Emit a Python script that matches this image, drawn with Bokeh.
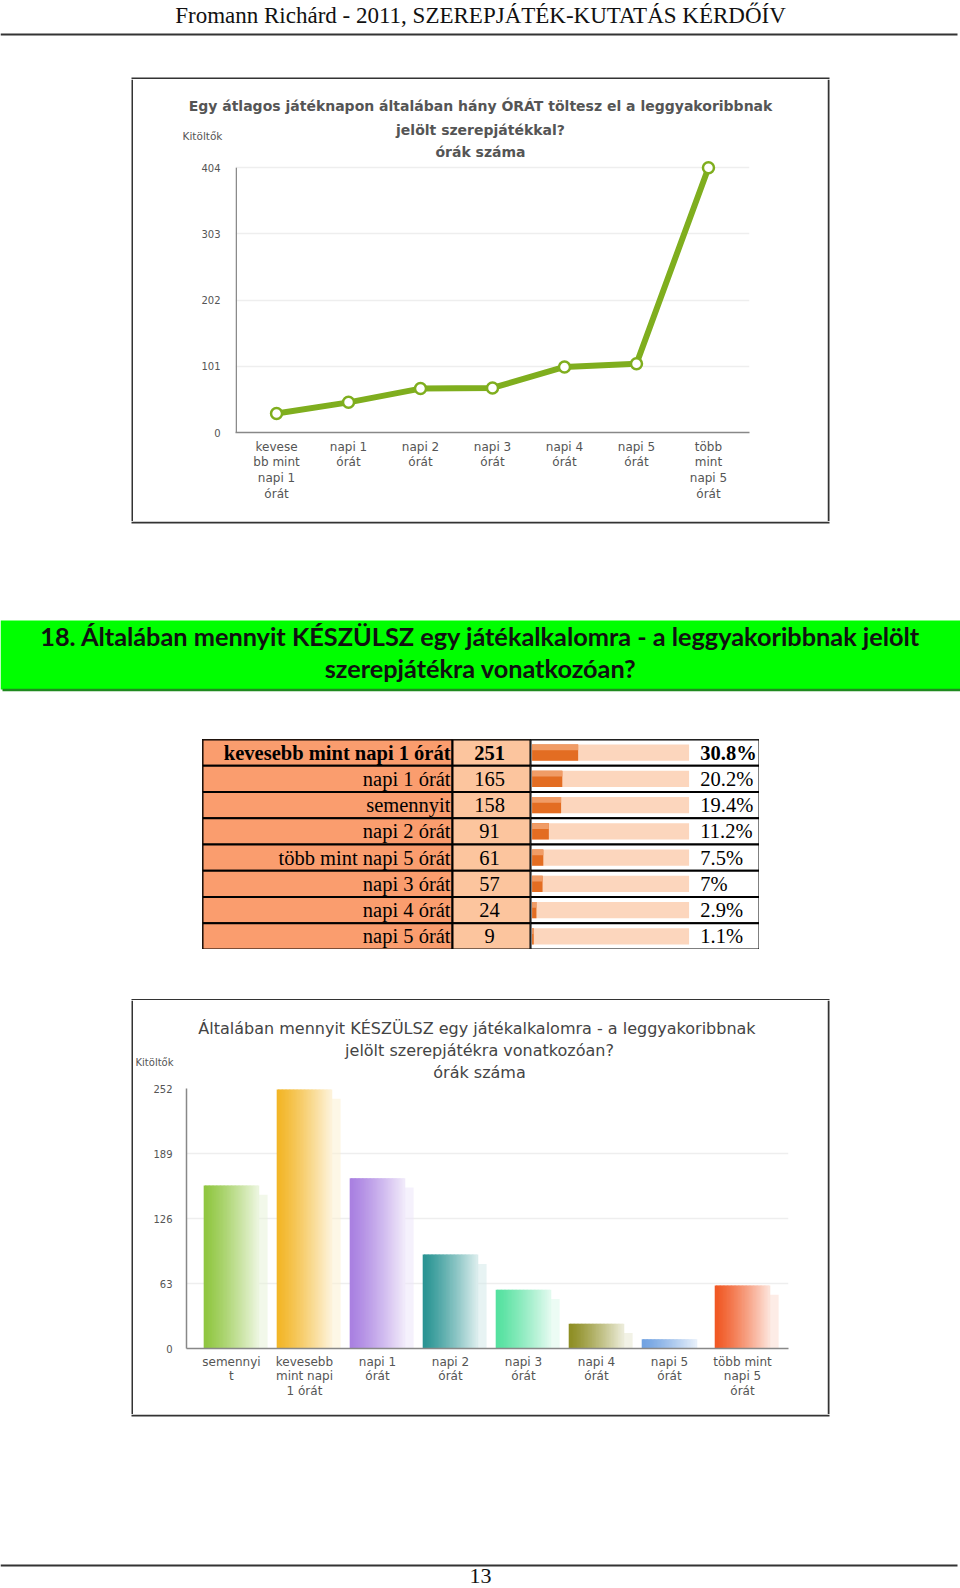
from bokeh.plotting import figure
from bokeh.models import Range1d, FixedTicker, ColumnDataSource, Spacer, FactorRange
from bokeh.layouts import column, row
from bokeh.transform import dodge
from bokeh.core.properties import value
from bokeh.embed import file_html
from bokeh.resources import INLINE

# ---------------- data ----------------
header_text = "Fromann Richárd - 2011, SZEREPJÁTÉK-KUTATÁS KÉRDŐÍV"
page_number = "13"

line_title = ["Egy átlagos játéknapon általában hány ÓRÁT töltesz el a leggyakoribbnak",
              "jelölt szerepjátékkal?", "órák száma"]
y_title = "Kitöltők"
line_categories = ["kevesebb mint napi 1 órát", "napi 1 órát", "napi 2 órát", "napi 3 órát",
                   "napi 4 órát", "napi 5 órát", "több mint napi 5 órát"]
line_tick_labels = ["kevese\nbb mint\nnapi 1\nórát", "napi 1\nórát", "napi 2\nórát",
                    "napi 3\nórát", "napi 4\nórát", "napi 5\nórát", "több\nmint\nnapi 5\nórát"]
line_values = [29, 46, 67, 68, 100, 105, 404]
line_y_ticks = [0, 101, 202, 303, 404]

section_title = ["18. Általában mennyit KÉSZÜLSZ egy játékalkalomra - a leggyakoribbnak jelölt",
                 "szerepjátékra vonatkozóan?"]

table_labels = ["kevesebb mint napi 1 órát", "napi 1 órát", "semennyit", "napi 2 órát",
                "több mint napi 5 órát", "napi 3 órát", "napi 4 órát", "napi 5 órát"]
table_counts = [251, 165, 158, 91, 61, 57, 24, 9]
table_percents = [30.8, 20.2, 19.4, 11.2, 7.5, 7, 2.9, 1.1]

bar_title = ["Általában mennyit KÉSZÜLSZ egy játékalkalomra -  a leggyakoribbnak",
             "jelölt szerepjátékra vonatkozóan?", "órák száma"]
bar_categories = ["semennyit", "kevesebb mint napi 1 órát", "napi 1 órát", "napi 2 órát",
                  "napi 3 órát", "napi 4 órát", "napi 5 órát", "több mint napi 5 órát"]
bar_tick_labels = ["semennyi\nt", "kevesebb\nmint napi\n1 órát", "napi 1\nórát", "napi 2\nórát",
                   "napi 3\nórát", "napi 4\nórát", "napi 5\nórát", "több mint\nnapi 5\nórát"]
bar_values = [158, 251, 165, 91, 57, 24, 9, 61]
bar_y_ticks = [0, 63, 126, 189, 252]
bar_colors = ["#8cc43a", "#f2b31f", "#a67ce0", "#22908f", "#4fe09c", "#8a8a1c", "#6c9fe0", "#f0521c"]

SANS = "DejaVu Sans"
SERIF = "Liberation Serif"
BOX = "#333333"


def mix(hexc, t):
    r, g, b = int(hexc[1:3], 16), int(hexc[3:5], 16), int(hexc[5:7], 16)
    return "#%02x%02x%02x" % tuple(int(round(c + (255 - c) * t)) for c in (r, g, b))


def bare(w, h):
    p = figure(width=w, height=h, x_range=Range1d(0, w), y_range=Range1d(h, 0),
               output_backend="svg", toolbar_location=None, min_border=0,
               x_axis_location=None, y_axis_location=None, title=None)
    p.frame_align = False
    p.grid.visible = False
    p.outline_line_color = None
    p.background_fill_color = "white"
    p.border_fill_color = "white"
    return p


def hline(p, x0, x1, y, color=BOX, width=2):
    p.segment(x0=[x0], y0=[y], x1=[x1], y1=[y], line_color=color, line_width=width)


def vline(p, x, y0, y1, color=BOX, width=2):
    p.segment(x0=[x], y0=[y0], x1=[x], y1=[y1], line_color=color, line_width=width)


def style_axes(p, standoff_x, standoff_y, lh):
    p.frame_align = False
    p.outline_line_color = None
    p.xgrid.visible = False
    p.ygrid.grid_line_color = "#eeeeee"
    p.ygrid.grid_line_width = 1.5
    p.yaxis.major_tick_line_color = None
    p.yaxis.minor_tick_line_color = None
    p.yaxis.major_label_standoff = standoff_y
    p.yaxis.major_label_text_font = SANS
    p.yaxis.major_label_text_font_size = "10px"
    p.yaxis.major_label_text_color = "#555"
    p.xaxis.axis_line_color = "#888"
    p.xaxis.axis_line_width = 1.5
    p.xaxis.major_tick_line_color = None
    p.xaxis.minor_tick_line_color = None
    p.xaxis.major_label_standoff = standoff_x
    p.xaxis.major_label_text_font = SANS
    p.xaxis.major_label_text_font_size = "12px"
    p.xaxis.major_label_text_color = "#555"
    p.xaxis.major_label_text_line_height = lh


# ---------------- header (also top edge of first chart box) ----------------
header = bare(960, 79)
header.text(x=[480], y=[15], text=[header_text], text_align="center", text_baseline="middle",
            text_font=value(SERIF), text_font_size="23px", text_color="#111")
hline(header, 0, 957, 34, "#333", 2)
hline(header, 131, 829, 78)

# ---------------- line chart box ----------------
line_head = bare(694, 81)
line_head.text(x=[347] * 3, y=[26, 50, 72], text=line_title, text_align="center",
               text_baseline="middle", text_font=value(SANS), text_font_size="14px",
               text_font_style="bold", text_color="#555555")
line_head.text(x=[69], y=[56], text=[y_title], text_align="center", text_baseline="middle",
               text_font=value(SANS), text_font_size="10.5px", text_color="#555")

lx = list(range(len(line_categories)))
pl = figure(width=694, height=361, x_range=Range1d(-0.57, 6.57), y_range=Range1d(0, 415),
            output_backend="svg", toolbar_location=None, title=None,
            min_border_left=102, min_border_right=78, min_border_top=0, min_border_bottom=89)
style_axes(pl, 1, 9, 1.12)
pl.yaxis.ticker = FixedTicker(ticks=line_y_ticks)
pl.yaxis.axis_line_color = None
pl.xaxis.ticker = FixedTicker(ticks=lx)
pl.xaxis.major_label_overrides = {i: t for i, t in zip(lx, line_tick_labels)}
pl.segment(x0=[pl.x_range.start + 0.01], y0=[0], x1=[pl.x_range.start + 0.01],
           y1=[max(line_y_ticks)], line_color="#888", line_width=1.5)
lsrc = ColumnDataSource(dict(x=lx, v=line_values))
pl.line(x="x", y="v", source=lsrc, line_color="#7fae1e", line_width=6)
pl.scatter(x="x", y="v", source=lsrc, size=11, fill_color="white", line_color="#7fae1e",
           line_width=2.5)

left1 = bare(133, 442)
vline(left1, 132, 0, 442)
right1 = bare(133, 442)
vline(right1, 1, 0, 442)

# ---------------- section title band (also bottom edge of first box) ----------------
mid = bare(960, 218)
hline(mid, 131, 829, 1)
mid.quad(left=[0], right=[960], top=[99], bottom=[168], fill_color="#00ff00", line_color=None)
hline(mid, 2, 960, 168.5, "#1f8a1f", 2.5)
mid.text(x=[480, 480], y=[114, 146], text=section_title, text_align="center",
         text_baseline="middle", text_font=value("Lato"), text_font_size="25.3px",
         text_font_style="bold", text_color="#111")

# ---------------- table ----------------
row_h = 210
styles = ["bold" if c == max(table_counts) else "normal" for c in table_counts]
tsrc = ColumnDataSource(dict(
    label=table_labels, count=[str(c) for c in table_counts], pct=table_percents,
    pct_text=["%g%%" % v for v in table_percents], style=styles))

tleft = figure(width=328, height=row_h, x_range=Range1d(0, 328),
               y_range=FactorRange(factors=table_labels[::-1]), output_backend="svg",
               toolbar_location=None, min_border=0, x_axis_location=None,
               y_axis_location=None, title=None)
tleft.frame_align = False
tleft.grid.visible = False
tleft.hbar(y="label", left=0, right=250, height=1, source=tsrc, fill_color="#fa9d6e",
           line_color="black", line_width=2)
tleft.hbar(y="label", left=250, right=328, height=1, source=tsrc, fill_color="#fcc59e",
           line_color="black", line_width=2)
tleft.text(x=248, y="label", text="label", source=tsrc, text_align="right",
           text_baseline="middle", text_font=value(SERIF), text_font_size="20.5px",
           text_font_style="style", text_color="black")
tleft.text(x=287, y="label", text="count", source=tsrc, text_align="center",
           text_baseline="middle", text_font=value(SERIF), text_font_size="20.5px",
           text_font_style="style", text_color="black")
tleft.outline_line_color = "black"
tleft.outline_line_width = 2

tbar = figure(width=229, height=row_h, x_range=Range1d(-1.07, 152.1),
              y_range=FactorRange(factors=table_labels[::-1]), output_backend="svg",
              toolbar_location=None, min_border=0, x_axis_location=None,
              y_axis_location=None, title=None)
tbar.frame_align = False
tbar.grid.visible = False
tbar.hbar(y="label", left=-1.07, right=152.1, height=1, source=tsrc, fill_color="white",
          line_color="black", line_width=2)
tbar.hbar(y="label", left=0, right=105, height=0.62, source=tsrc, fill_color="#fcd6bd",
          line_color=None)
tbar.hbar(y="label", left=0, right="pct", height=0.62, source=tsrc, fill_color="#e36d22",
          line_color=None)
tbar.hbar(y=dodge("label", 0.2, range=tbar.y_range), left=0, right="pct", height=0.22,
          source=tsrc, fill_color="#f09c66", line_color=None)
tbar.text(x=112.5, y="label", text="pct_text", source=tsrc, text_align="left",
          text_baseline="middle", text_font=value(SERIF), text_font_size="20.5px",
          text_font_style="style", text_color="black")
tbar.outline_line_color = "black"
tbar.outline_line_width = 2

# ---------------- gap (also top edge of second box) ----------------
gap = bare(960, 51)
hline(gap, 131, 829, 50.5)

# ---------------- bar chart box ----------------
bar_head = bare(694, 81)
bar_head.text(x=[346] * 3, y=[28, 50, 72], text=bar_title, text_align="center",
              text_baseline="middle", text_font=value(SANS), text_font_size="16px",
              text_color="#444")
bar_head.text(x=[21], y=[62], text=[y_title], text_align="center", text_baseline="middle",
              text_font=value(SANS), text_font_size="10px", text_color="#555")

bx = list(range(len(bar_categories)))
pb = figure(width=694, height=333, x_range=Range1d(-0.616, 7.63), y_range=Range1d(0, 252),
            output_backend="svg", toolbar_location=None, title=None,
            min_border_left=53, min_border_right=39, min_border_top=7, min_border_bottom=66)
style_axes(pb, 0, 8, 1.05)
pb.yaxis.ticker = FixedTicker(ticks=bar_y_ticks)
pb.yaxis.axis_line_color = "#888"
pb.yaxis.axis_line_width = 1.5
pb.xaxis.ticker = FixedTicker(ticks=bx)
pb.xaxis.major_label_overrides = {i: t for i, t in zip(bx, bar_tick_labels)}

bw = 0.75
shsrc = ColumnDataSource(dict(x=bx, v=bar_values, c=[mix(c, 0.8) for c in bar_colors]))
pb.vbar(x=dodge("x", bw / 2 + 0.06), top=dodge("v", -9), width=0.12,
        fill_color="c", fill_alpha=0.55, line_color=None, source=shsrc)
n = 40
for k in range(n):
    t = 0.03 + 0.8 * (k / (n - 1)) ** 1.2
    src = ColumnDataSource(dict(x=bx, v=bar_values, c=[mix(c, t) for c in bar_colors]))
    pb.vbar(x=dodge("x", -bw / 2 + (k + 0.5) * bw / n), top="v", width=bw / n * 1.6,
            fill_color="c", line_color=None, source=src)

left2 = bare(133, 414)
vline(left2, 132, 0, 414)
right2 = bare(133, 414)
vline(right2, 1, 0, 414)

# ---------------- footer (also bottom edge of second box) ----------------
footer = bare(960, 174)
hline(footer, 131, 829, 1)
hline(footer, 0, 957, 151, "#333", 2)
footer.text(x=[480], y=[161], text=[page_number], text_align="center", text_baseline="middle",
            text_font=value(SERIF), text_font_size="22px", text_color="#111")

layout = column(
    header,
    row(left1, column(line_head, pl), right1),
    mid,
    row(Spacer(width=202, height=row_h), tleft, tbar, Spacer(width=201, height=row_h)),
    gap,
    row(left2, column(bar_head, pb), right2),
    footer,
)

open("out.html", "w").write(file_html(layout, INLINE))
